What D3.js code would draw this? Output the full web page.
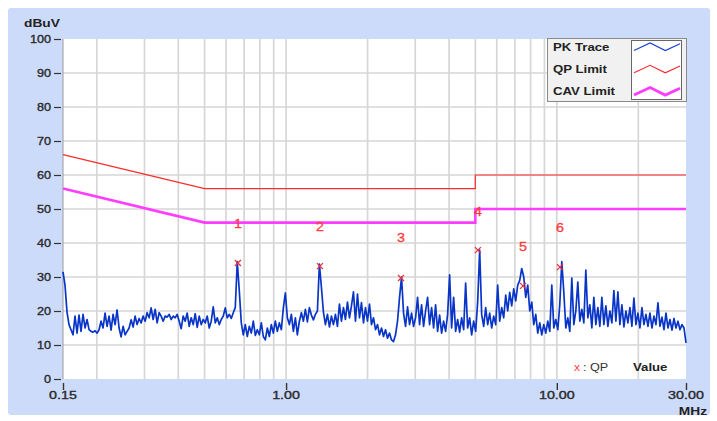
<!DOCTYPE html>
<html><head><meta charset="utf-8">
<script src="https://cdn.jsdelivr.net/npm/d3@7"></script>
<style>body{margin:0;background:#fff;} svg{display:block;font-family:"Liberation Sans",Arial,sans-serif;}</style>
</head><body><svg id="c" width="717" height="421"></svg>
<script>
// ---------- data ----------
const yTickValues = [0,10,20,30,40,50,60,70,80,90,100];
const xTickValues = [0.15, 1, 10, 30];
const xTickLabels = ["0.15","1.00","10.00","30.00"];
const gridFreqs = [0.2,0.3,0.4,0.5,0.6,0.7,0.8,0.9,1,2,3,4,5,6,7,8,9,10,20];
const sweepStart = 0.15, sweepStop = 30;   // receiver sweep (MHz), trace points equally log-spaced
const pkTrace = [
 31.5,27.6,19.7,16,14.5,13,18.5,13.5,18.8,14,
 19,15,17.5,14.5,14,13.8,14.2,13.5,14.5,17,
 15,19.4,15.5,18.5,14.4,19,16,20.3,15,12.4,
 15.5,13,14,15,17.4,15.3,18.5,16,17.8,16.5,
 18.5,17,19.5,18,20.9,17.5,20.5,16.5,19.5,18.5,
 17,18.5,18.2,19,17.5,18.5,18,19,17,14.8,
 18.5,17,19.4,15.5,18,16,19.2,15.2,18.5,16,
 17.5,16.5,18.5,15,17,21.2,16.5,18,16,17.5,
 18.5,20.9,18,19,17.8,19.5,21,34.5,26,16.5,
 13,16,12.5,15.5,13.5,17,12.8,14.5,13,16.5,
 12.5,11.5,15,12.5,16,13.5,17,14,16.5,14.5,
 20.9,25.3,18,16,19,14,18,13,17,19.5,
 17,20.5,16.8,21,18.8,17.4,19,20,33.8,27,
 19.7,16,19,15.3,18.5,16,19,15.5,22,17,
 21,17.5,22.6,18,21.5,25.6,17,25,18,22.5,
 16.5,21,17,22,16,18,14.5,16,13,15,
 12.5,14.5,12,13.5,11.5,11,13,17,24,30,
 19.4,15.5,21.2,16,19.4,15.5,18,24,16,21.8,
 15.5,20,24,16,21,15,21.8,14,18.8,13.5,
 17,14,19,30.6,15,24,14,17.5,13.8,18,
 14.5,28.2,15,18,13,17,14,22.6,37.9,19,
 15.5,21,16,19.4,15,18.5,16,27.6,17,21,
 18,24.7,20,25.5,21.5,26.5,23,27.6,29,32.5,
 30,24,27.6,20,22.6,16,19,13.5,16.5,13,
 16,13.5,17,14,27.6,15,17.5,14.5,22,34.5,
 25.6,15,18,14,29.7,16,20,28.5,17,20.5,
 16.5,32,18,21.8,15,24,16,21,15.5,24,
 16,21.5,15.5,20,16.5,26,17,25.6,16,21.8,
 15.3,20,16.5,21,15.5,23.8,16,19.4,15,21,
 16,19,15.5,19.4,15,18.5,16,22.4,15.5,18.2,
 14.5,19.4,15,17.5,14.4,17.8,15,17,14.5,16,15,10.6
];
const qpLimitFreq = [0.15, 0.5, 5, 5, 30];
const qpLimitVal  = [66, 56, 56, 60, 60];
const cavLimitFreq = [0.15, 0.5, 5, 5, 30];
const cavLimitVal  = [56, 46, 46, 50, 50];
const markerNames = ["1","2","3","4","5","6"];
const markerFreq  = [0.664, 1.334, 2.657, 5.11, 7.50, 10.27];
const markerQP    = [34.1, 33.2, 29.7, 37.9, 27.4, 32.9];
const markerLabelLevel = [45.6, 44.7, 41.5, 49.1, 38.8, 44.4];
const legendNames = ["PK Trace","QP Limit","CAV Limit"];
const legendColors = ["#1a44d6","#ff2a2a","#ff3cff"];
const legendWidths = [1.2,1.2,2.8];

// ---------- layout ----------
const svg = d3.select("#c");
const L = 63, R = 686, T = 39, B = 379;
const x = d3.scaleLog().domain([0.15, 30]).range([L, R]);
const y = d3.scaleLinear().domain([0, 100]).range([B, T]);

function stext(g, tx, ty, str, opt) {
  const t = g.append("text")
    .attr("transform", `translate(${tx},${ty}) scale(${opt.sx||1},1)`)
    .attr("font-size", opt.size || 11)
    .attr("font-weight", opt.weight || "normal")
    .attr("fill", opt.fill || "#222")
    .attr("text-anchor", opt.anchor || "start")
    .attr("dominant-baseline", "central")
    .text(str);
  if (opt.heavy) t.attr("stroke", opt.fill || "#222").attr("stroke-width", opt.heavy);
  return t;
}

// panel
svg.append("rect").attr("x", 8).attr("y", 8).attr("width", 702).attr("height", 407)
  .attr("rx", 3).attr("fill", "#cddbfa");
svg.append("rect").attr("x", L).attr("y", T).attr("width", R - L).attr("height", B - T).attr("fill", "#fff");

// grid
const grid = svg.append("g");
grid.selectAll("line.v").data(gridFreqs).join("line")
  .attr("x1", d => x(d)).attr("x2", d => x(d)).attr("y1", T).attr("y2", B)
  .attr("stroke", "#d6d6d6").attr("stroke-width", 1.7);
grid.selectAll("line.h").data(yTickValues.filter(v => v > 0 && v < 100)).join("line")
  .attr("x1", L).attr("x2", R).attr("y1", d => y(d)).attr("y2", d => y(d))
  .attr("stroke", "#d6d6d6").attr("stroke-width", 1.7);

// left axis line
svg.append("line").attr("x1", L).attr("x2", L).attr("y1", T).attr("y2", B)
  .attr("stroke", "#9a9a9a").attr("stroke-width", 1);

// y axis ticks via d3 axis
const yAxis = d3.axisLeft(y).tickValues(yTickValues).tickSize(7).tickPadding(4).tickFormat("");
const yg = svg.append("g").attr("transform", `translate(${L - 2},0)`).call(yAxis);
yg.select(".domain").remove();
yg.selectAll(".tick line").attr("stroke", "#333").attr("stroke-width", 1.2);
yTickValues.forEach(v => stext(svg, 51, y(v), String(v), {anchor: "end", size: 11, sx: 1.15, fill: "#2a2a2a", heavy: 0.35}));

// x axis ticks
const xAxis = d3.axisBottom(x).tickValues(xTickValues).tickSize(7).tickFormat("");
const xg = svg.append("g").attr("transform", `translate(0,${B + 4})`).call(xAxis);
xg.select(".domain").remove();
xg.selectAll(".tick line").attr("stroke", "#333").attr("stroke-width", 1.4);
xTickValues.forEach((v, i) => stext(svg, x(v), 395, xTickLabels[i], {anchor: "middle", size: 11, sx: 1.3, fill: "#2a2a2a", heavy: 0.35}));

// axis titles
stext(svg, 24, 23, "dBuV", {size: 11, weight: "bold", sx: 1.25, fill: "#222"});
stext(svg, 707, 411, "MHz", {anchor: "end", size: 11, weight: "bold", sx: 1.25, fill: "#222"});

// limits
const line = d3.line().x(d => x(d[0])).y(d => y(d[1]));
svg.append("path").datum(qpLimitFreq.map((f, i) => [f, qpLimitVal[i]]))
  .attr("d", line).attr("fill", "none").attr("stroke", legendColors[1]).attr("stroke-width", 1.2);
svg.append("path").datum(cavLimitFreq.map((f, i) => [f, cavLimitVal[i]]))
  .attr("d", line).attr("fill", "none").attr("stroke", legendColors[2]).attr("stroke-width", 2.6);

// PK trace
const N = pkTrace.length;
const traceData = pkTrace.map((v, i) => [sweepStart * Math.pow(sweepStop / sweepStart, i / (N - 1)), v]);
svg.append("path").datum(traceData).attr("d", line).attr("fill", "none")
  .attr("stroke", "#0835c8").attr("stroke-width", 1.7).attr("stroke-linejoin", "round");

// markers
const mk = svg.append("g");
markerFreq.forEach((f, i) => {
  const cx = x(f), cy = y(markerQP[i]), s = 3;
  mk.append("path").attr("d", `M${cx - s},${cy - s}L${cx + s},${cy + s}M${cx - s},${cy + s}L${cx + s},${cy - s}`)
    .attr("stroke", "#e8323c").attr("stroke-width", 1.3).attr("fill", "none");
  stext(mk, cx, y(markerLabelLevel[i]), markerNames[i], {anchor: "middle", size: 13, fill: "#ff3a3a", sx: 1.1, heavy: 0.3});
});

// legend
const lg = svg.append("g");
lg.append("rect").attr("x", 547.5).attr("y", 38.5).attr("width", 139).attr("height", 63)
  .attr("fill", "#f1f1f1").attr("stroke", "#8a8a8a");
lg.append("rect").attr("x", 631.5).attr("y", 40.5).attr("width", 50).attr("height", 59)
  .attr("fill", "#fff").attr("stroke", "#666");
const zig = [[0, 1], [0.35, 0], [0.68, 1], [1, 0.1]];
legendNames.forEach((n, i) => {
  const cy = 47 + i * 22.3;
  stext(lg, 553, cy, n, {size: 11, weight: "bold", sx: 1.2, fill: "#222"});
  const pts = zig.map(p => [634 + p[0] * 46, cy - 4 + p[1] * 7.5]);
  lg.append("path").attr("d", d3.line()(pts)).attr("fill", "none")
    .attr("stroke", legendColors[i]).attr("stroke-width", legendWidths[i]);
});

// QP note
stext(svg, 574, 367, "x", {size: 11, fill: "#ff4040", sx: 1.1});
stext(svg, 583, 367, ": QP", {size: 11, fill: "#333", sx: 1.15});
stext(svg, 633, 367, "Value", {size: 11, weight: "bold", fill: "#222", sx: 1.2});
</script></body></html>
